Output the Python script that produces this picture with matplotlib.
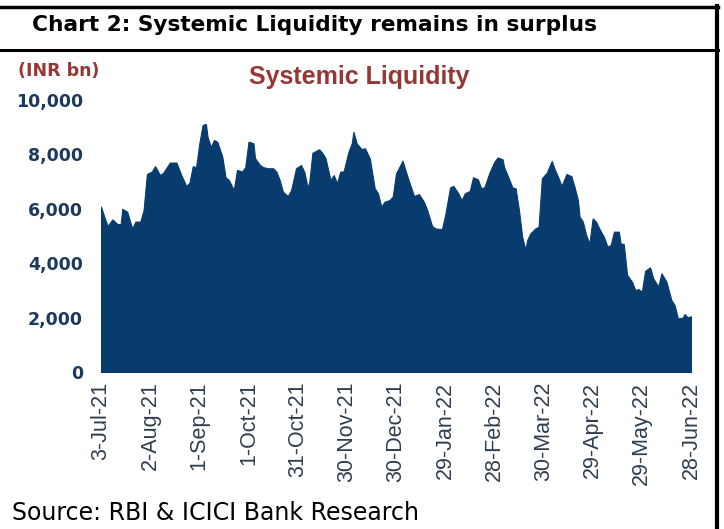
import matplotlib
matplotlib.use("Agg")
import matplotlib.pyplot as plt
from matplotlib.lines import Line2D
import pandas as pd

# ---------------- data ----------------
start_date = "2021-07-03"
day_offset = [0, 2, 4, 7, 10, 12, 13, 16, 19, 21, 24, 26, 28, 31, 33, 36, 38, 42, 45, 46,
              49, 52, 54, 56, 58, 60, 62, 64, 65, 67, 69, 71, 74, 76, 78, 81, 83, 86, 88, 90,
              93, 94, 97, 99, 102, 105, 107, 109, 111, 114, 116, 119, 122, 124, 126, 127, 129,
              133, 135, 137, 140, 142, 144, 146, 148, 151, 153, 154, 156, 159, 161, 164, 167,
              169, 171, 173, 176, 178, 180, 184, 186, 188, 191, 194, 197, 199, 202, 204, 208,
              210, 213, 215, 218, 220, 222, 225, 227, 230, 232, 234, 237, 240, 242, 245, 246,
              248, 251, 253, 255, 257, 259, 260, 262, 265, 267, 269, 272, 275, 277, 279, 281,
              284, 287, 289, 291, 292, 294, 296, 298, 300, 302, 304, 307, 309, 311, 313, 316,
              317, 319, 321, 324, 326, 328, 330, 332, 335, 337, 340, 342, 345, 348, 350, 352,
              355, 356, 358, 360]
liquidity = [6080, 5710, 5370, 5610, 5440, 5440, 6000, 5890, 5280, 5530, 5530, 5960, 7280,
             7370, 7570, 7240, 7330, 7700, 7700, 7700, 7240, 6840, 6960, 7570, 7530, 8410,
             9080, 9120, 8650, 8280, 8530, 8460, 7920, 7160, 7060, 6690, 7430, 7370, 7530,
             8470, 8410, 7860, 7610, 7530, 7490, 7490, 7370, 7060, 6630, 6470, 6690, 7490,
             7610, 7370, 6810, 6940, 8060, 8190, 8060, 7860, 7060, 7240, 6940, 7370, 7370,
             8100, 8410, 8830, 8410, 8190, 8230, 7860, 6750, 6570, 6080, 6260, 6320, 6450,
             7300, 7770, 7370, 7000, 6470, 6540, 6260, 5960, 5370, 5280, 5250, 5770, 6790,
             6840, 6570, 6320, 6570, 6660, 7160, 7080, 6750, 6800, 7330, 7730, 7890, 7820,
             7530, 7240, 6790, 6750, 5960, 4970, 4490, 4850, 5100, 5280, 5340, 7120, 7330,
             7760, 7430, 7160, 6840, 7280, 7200, 6790, 6320, 5710, 5530, 5040, 4730, 5650,
             5530, 5280, 4950, 4610, 4670, 5160, 5160, 4730, 4700, 3570, 3320, 3010, 3050,
             2950, 3720, 3850, 3440, 3140, 3630, 3320, 2650, 2460, 1970, 2000, 2130, 2010,
             2050]
tick_dates = ["2021-07-03", "2021-08-02", "2021-09-01", "2021-10-01", "2021-10-31",
              "2021-11-30", "2021-12-30", "2022-01-29", "2022-02-28", "2022-03-30",
              "2022-04-29", "2022-05-29", "2022-06-28"]
tick_labels = ["3-Jul-21", "2-Aug-21", "1-Sep-21", "1-Oct-21", "31-Oct-21", "30-Nov-21",
               "30-Dec-21", "29-Jan-22", "28-Feb-22", "30-Mar-22", "29-Apr-22",
               "29-May-22", "28-Jun-22"]
y_ticks = [0, 2000, 4000, 6000, 8000, 10000]
y_labels = ["0", "2,000", "4,000", "6,000", "8,000", "10,000"]

dates = pd.Timestamp(start_date) + pd.to_timedelta(day_offset, unit="D")

# ---------------- figure ----------------
W, H = 724, 529
fig = plt.figure(figsize=(W / 100, H / 100), dpi=100)
fig.patch.set_facecolor("white")

ax = fig.add_axes([101 / W, 1 - 372 / H, 590 / W, 272 / H])
ax.fill_between(dates, liquidity, 0, color="#083b6e", linewidth=0.8, edgecolor="#083b6e")
ax.set_xlim(pd.Timestamp(tick_dates[0]), pd.Timestamp(tick_dates[-1]))
ax.set_ylim(0, 10000)
for s in ax.spines.values():
    s.set_visible(False)

ax.set_xticks(pd.to_datetime(tick_dates))
ax.set_xticklabels(tick_labels, rotation=90, fontsize=15.5, color="#2f3e4e",
                   family="Liberation Sans", va="top", ha="center")
ax.set_yticks(y_ticks)
ax.set_yticklabels(y_labels, fontsize=12.5, fontweight="bold", color="#1c3a5e",
                   family="DejaVu Sans")
ax.tick_params(axis="x", length=0, pad=7)
ax.tick_params(axis="y", length=0, pad=13)

# texts
fig.text(32 / W, 1 - 25 / H, "Chart 2: Systemic Liquidity remains in surplus",
         fontsize=15.6, fontweight="bold", family="DejaVu Sans",
         color="black", va="center", ha="left")
fig.text(18 / W, 1 - 71 / H, "(INR bn)", fontsize=12.5, fontweight="bold",
         color="#953735", va="center", ha="left", family="DejaVu Sans")
fig.text(359 / W, 1 - 77 / H, "Systemic Liquidity", fontsize=18, fontweight="bold",
         color="#953735", va="center", ha="center", family="Liberation Sans")
fig.text(12 / W, 1 - 513 / H, "Source: RBI & ICICI Bank Research", fontsize=17,
         color="black", va="center", ha="left", family="DejaVu Sans")

# frame lines
fig.add_artist(Line2D([0, 718 / W], [1 - 7 / H, 1 - 7 / H], color="black", lw=2.5,
                      transform=fig.transFigure))
fig.add_artist(Line2D([0, 718 / W], [1 - 50 / H, 1 - 50 / H], color="black", lw=2.2,
                      transform=fig.transFigure))
fig.add_artist(Line2D([717 / W, 717 / W], [0, 1 - 6 / H], color="black", lw=3,
                      transform=fig.transFigure))

fig.savefig("out.png", dpi=100, facecolor="white")
